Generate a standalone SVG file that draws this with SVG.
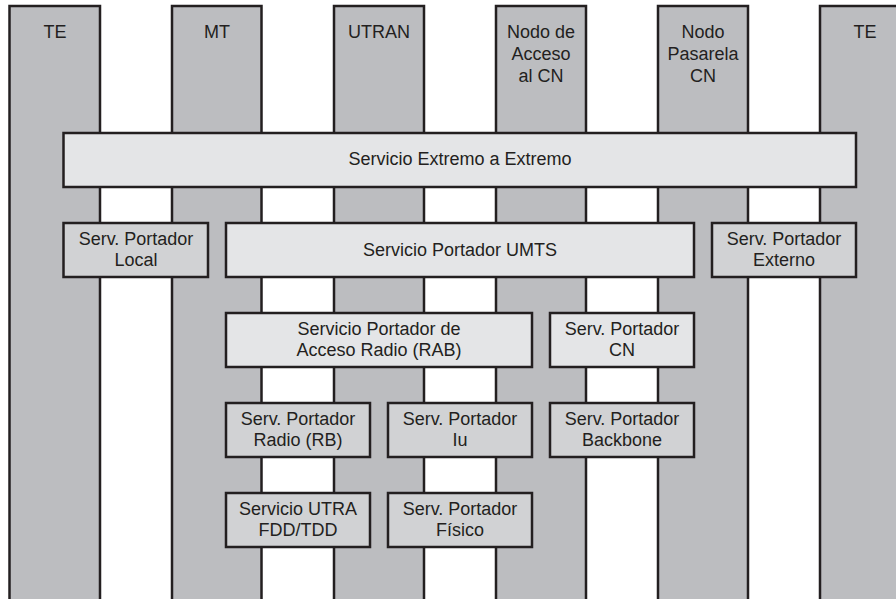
<svg xmlns="http://www.w3.org/2000/svg" width="896" height="599" viewBox="0 0 896 599">
<style>
.col{fill:#bcbdc0;stroke:#231f20;stroke-width:2.5}
.bx{fill:#e4e5e7;stroke:#231f20;stroke-width:2.5}
.bd{fill:#d1d2d4;stroke:#231f20;stroke-width:2.5}
text{font-family:"Liberation Sans",Arial,sans-serif;font-size:18px;fill:#231f20;text-anchor:middle}
</style>
<rect width="896" height="599" fill="#ffffff"/>
<g id="col-te1"><rect class="col" x="9.5" y="6" width="90.5" height="610"/><text x="55" y="38">TE</text></g>
<g id="col-mt"><rect class="col" x="172" y="6" width="89.5" height="610"/><text x="217" y="38">MT</text></g>
<g id="col-utran"><rect class="col" x="334" y="6" width="90" height="610"/><text x="379" y="38">UTRAN</text></g>
<g id="col-acceso"><rect class="col" x="496" y="6" width="90" height="610"/><text x="541" y="38">Nodo de</text><text x="541" y="60">Acceso</text><text x="541" y="82">al CN</text></g>
<g id="col-pasarela"><rect class="col" x="658" y="6" width="90" height="610"/><text x="703" y="38">Nodo</text><text x="703" y="60">Pasarela</text><text x="703" y="82">CN</text></g>
<g id="col-te2"><rect class="col" x="820" y="6" width="90" height="610"/><text x="865" y="38">TE</text></g>

<g id="extremo"><rect class="bx" x="63.5" y="133" width="792.5" height="54"/><text x="460" y="165">Servicio Extremo a Extremo</text></g>
<g id="local"><rect class="bd" x="63.5" y="223" width="144.5" height="54"/><text x="136" y="245">Serv. Portador</text><text x="136" y="266">Local</text></g>
<g id="umts"><rect class="bx" x="226" y="223" width="468" height="54"/><text x="460" y="256">Servicio Portador UMTS</text></g>
<g id="externo"><rect class="bd" x="712" y="223" width="144" height="54"/><text x="784" y="245">Serv. Portador</text><text x="784" y="266">Externo</text></g>

<g id="rab"><rect class="bx" x="226" y="313" width="306" height="54"/><text x="379" y="335">Servicio Portador de</text><text x="379" y="356">Acceso Radio (RAB)</text></g>
<g id="cn"><rect class="bx" x="550" y="313" width="144" height="54"/><text x="622" y="335">Serv. Portador</text><text x="622" y="356">CN</text></g>

<g id="rb"><rect class="bd" x="226" y="403" width="144" height="54"/><text x="298" y="425">Serv. Portador</text><text x="298" y="446">Radio (RB)</text></g>
<g id="iu"><rect class="bd" x="388" y="403" width="144" height="54"/><text x="460" y="425">Serv. Portador</text><text x="460" y="446">Iu</text></g>
<g id="backbone"><rect class="bd" x="550" y="403" width="144" height="54"/><text x="622" y="425">Serv. Portador</text><text x="622" y="446">Backbone</text></g>

<g id="utra"><rect class="bd" x="226" y="493" width="144" height="54"/><text x="298" y="515">Servicio UTRA</text><text x="298" y="536">FDD/TDD</text></g>
<g id="fisico"><rect class="bd" x="388" y="493" width="144" height="54"/><text x="460" y="515">Serv. Portador</text><text x="460" y="536">Físico</text></g>
<g id="connectors"></g>
</svg>
